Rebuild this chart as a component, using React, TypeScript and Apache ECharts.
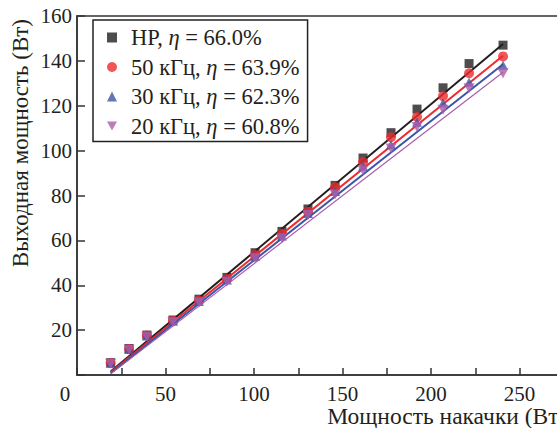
import { useEffect, useRef } from 'react';
import * as echarts from 'echarts';

// Pump power, W
const pumpPower = [19, 29.4, 39.5, 54.2, 68.9, 84.7, 100.6, 115.8, 130.5, 145.8, 161.6, 177.4, 192.1, 206.8, 221.5, 240.7];

// Output power, W
const outHP = [5.5, 11.8, 17.8, 24.5, 33.8, 43.5, 54.5, 64, 74, 84.5, 96.7, 108, 118.5, 128, 138.8, 147];
const out50 = [5.3, 11.6, 17.6, 24.2, 33.2, 42.8, 53.5, 63, 72.8, 83.7, 94.9, 106, 115, 124.3, 134.5, 142];
const out30 = [5.2, 11.4, 17.4, 23.9, 32.8, 42.3, 52.8, 62, 72, 81.8, 93, 102.6, 112.7, 121.2, 130.5, 138];
const out20 = [5.0, 11.2, 17.1, 23.5, 32.3, 41.6, 52, 61, 71.3, 80.4, 91.3, 101, 110.5, 118.2, 127.8, 134.5];

// Linear fit end points [pump, output]
const fitHP = [[19, 1.5], [240.7, 147.5]];
const fit50 = [[19, 1.2], [240.7, 142.3]];
const fit30 = [[19, 0.8], [240.7, 138.5]];
const fit20 = [[19, 0.5], [240.7, 134.9]];

const seriesNames = ['HP', '50 кГц', '30 кГц', '20 кГц'];
const slopeLabels = ['66.0', '63.9', '62.3', '60.8'];

const xTicks = [0, 50, 100, 150, 200, 250];

const FONT = '"Liberation Serif", "Times New Roman", serif';
const INK = '#231f20';

export default function App() {
  const ref = useRef<HTMLDivElement>(null);

  useEffect(() => {
    if (!ref.current) return;
    const chart = echarts.init(ref.current, null, { renderer: 'svg' });

    const colors = ['#231f20', '#ee2a2e', '#3a55a6', '#ab5cab'];
    const symbols = ['rect', 'circle', 'triangle', 'path://M0,0L10,0L5,9Z'];
    const symbolSizes: any[] = [9, 10, [10, 9], [11, 10]];
    const lineWidths = [2, 2, 2, 1.2];
    const outputs = [outHP, out50, out30, out20];
    const fits = [fitHP, fit50, fit30, fit20];

    const series: any[] = [];
    seriesNames.forEach((name, i) => {
      series.push({
        name,
        type: 'scatter',
        data: pumpPower.map((x, k) => [x, outputs[i][k]]),
        symbol: symbols[i],
        symbolSize: symbolSizes[i],
        itemStyle: { color: colors[i] },
        z: 2 + i * 2,
      });
      series.push({
        name: name + ' fit',
        type: 'line',
        data: fits[i],
        showSymbol: false,
        symbol: 'none',
        silent: true,
        lineStyle: { color: colors[i], width: lineWidths[i] },
        z: 3 + i * 2,
      });
    });

    chart.setOption({
      animation: false,
      backgroundColor: '#ffffff',
      grid: {
        left: 77,
        top: 16,
        width: 495.6,
        height: 359,
        outerBoundsMode: 'none',
        containLabel: false,
        show: true,
        borderColor: '#333',
        borderWidth: 1.5,
        backgroundColor: 'transparent',
      },
      legend: {
        data: seriesNames.map((name, i) => ({ name, icon: symbols[i] })),
        orient: 'vertical',
        left: 93,
        top: 20,
        padding: [6, 8, 4, 14],
        itemGap: 6.5,
        itemWidth: 10,
        itemHeight: 10,
        borderColor: '#222',
        borderWidth: 1.5,
        backgroundColor: '#ffffff',
        formatter: (name: string) => {
          const i = seriesNames.indexOf(name);
          return `{s|${name}, }{e|η}{t| = ${slopeLabels[i]}%}`;
        },
        textStyle: {
          color: INK,
          fontFamily: FONT,
          fontSize: 22.5,
          rich: {
            s: { fontFamily: FONT, fontSize: 22.5, color: INK, lineHeight: 22, padding: [0, 0, 0, 9] },
            t: { fontFamily: FONT, fontSize: 22.5, color: INK, lineHeight: 22 },
            e: { fontFamily: FONT, fontSize: 22.5, color: INK, fontStyle: 'italic', lineHeight: 22 },
          },
        },
      },
      xAxis: {
        type: 'value',
        min: 0,
        max: 280,
        interval: 25,
        name: 'Мощность накачки (Вт)',
        nameLocation: 'middle',
        nameGap: 31,
        nameMoveOverlap: false,
        nameTextStyle: {
          fontFamily: FONT,
          fontSize: 23.5,
          lineHeight: 20,
          color: INK,
          padding: [0, 0, 0, 244],
        },
        axisLine: { show: true, onZero: false, lineStyle: { color: '#333', width: 1.5 } },
        axisTick: { show: true, inside: true, length: 7, lineStyle: { color: '#333', width: 1.5 } },
        splitLine: { show: false },
        axisLabel: {
          margin: 10,
          fontFamily: FONT,
          fontSize: 21,
          lineHeight: 18,
          color: INK,
          showMaxLabel: false,
          formatter: (v: number) => {
            if (v === 0) return '{o|0}';
            return xTicks.includes(v) ? String(v) : '';
          },
          rich: {
            o: { fontFamily: FONT, fontSize: 21, lineHeight: 18, color: INK, padding: [0, 24, 0, 0] },
          },
        },
      },
      yAxis: {
        type: 'value',
        min: 0,
        max: 160,
        interval: 20,
        name: 'Выходная мощность (Вт)',
        nameLocation: 'end',
        nameRotate: 90,
        nameGap: -3,
        nameMoveOverlap: false,
        nameTextStyle: {
          fontFamily: FONT,
          fontSize: 23,
          color: INK,
          align: 'right',
          verticalAlign: 'bottom',
          padding: [0, 0, 45, 0],
        },
        axisLine: { show: true, onZero: false, lineStyle: { color: '#333', width: 1.5 } },
        axisTick: { show: true, inside: true, length: 8, lineStyle: { color: '#333', width: 1.5 } },
        splitLine: { show: false },
        axisLabel: {
          margin: 5,
          fontFamily: FONT,
          fontSize: 21,
          color: INK,
          formatter: (v: number) => (v === 0 ? '' : String(v)),
        },
      },
      series,
    });

    return () => chart.dispose();
  }, []);

  return (
    <div
      ref={ref}
      style={{ position: 'fixed', left: 0, top: 0, width: 557, height: 428 }}
    />
  );
}
